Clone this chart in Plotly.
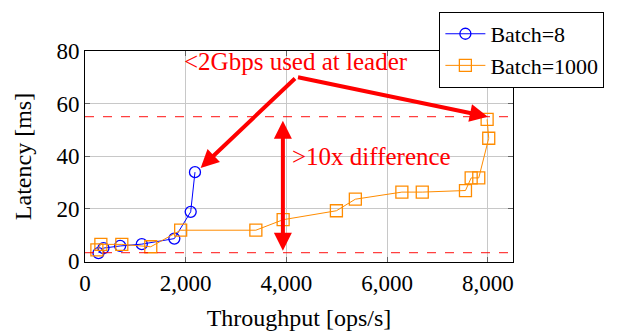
import plotly.graph_objects as go

# Batch=8 (blue circles)
b8_x = [268, 367, 698, 1128, 1774, 2099, 2184]
b8_y = [3.1, 5.0, 5.8, 6.5, 8.6, 18.8, 33.9]

# Batch=1000 (orange squares)
b1000_x = [236, 315, 731, 1306, 1900, 3393, 3935, 4993, 5369, 6293, 6698, 7556, 7669, 7820, 8018, 7986]
b1000_y = [4.3, 6.4, 6.4, 5.5, 11.8, 11.8, 15.8, 19.2, 23.6, 26.3, 26.3, 26.9, 31.7, 31.7, 46.8, 54.0]

x_ticks = [0, 2000, 4000, 6000, 8000]
x_tick_labels = ["0", "2,000", "4,000", "6,000", "8,000"]
y_ticks = [0, 20, 40, 60, 80]

ref_low = 3.3
ref_high = 55

FONT = "Liberation Serif, Times New Roman, serif"
RED = "#ff0000"

fig = go.Figure()
fig.add_trace(go.Scatter(
    x=b8_x, y=b8_y, mode="lines+markers", name="Batch=8",
    line=dict(color="#0000ff", width=1),
    marker=dict(symbol="circle-open", size=11, color="#0000ff", line=dict(width=1.3)),
))
fig.add_trace(go.Scatter(
    x=b1000_x, y=b1000_y, mode="lines+markers", name="Batch=1000",
    line=dict(color="#ff8c00", width=1),
    marker=dict(symbol="square-open", size=12, color="#ff8c00", line=dict(width=1.3)),
))

for yv in (ref_low, ref_high):
    fig.add_shape(type="line", xref="paper", x0=0, x1=1, yref="y", y0=yv, y1=yv,
                  line=dict(color="rgba(255,0,0,0.75)", width=1.3, dash="dash"))

# arrows from annotation to the two endpoints
ann_pt = (4200, 70.1)
fig.add_annotation(x=2297, y=35.5, ax=ann_pt[0], ay=ann_pt[1], xref="x", yref="y",
                   axref="x", ayref="y", showarrow=True, arrowhead=2, arrowsize=0.9,
                   arrowwidth=4, arrowcolor=RED, text="")
fig.add_annotation(x=8000, y=55, ax=ann_pt[0], ay=ann_pt[1], xref="x", yref="y",
                   axref="x", ayref="y", showarrow=True, arrowhead=2, arrowsize=0.9,
                   arrowwidth=4, arrowcolor=RED, text="")
# double arrow
fig.add_annotation(x=3930, y=4.0, ax=3930, ay=54.0, xref="x", yref="y",
                   axref="x", ayref="y", showarrow=True, arrowhead=2, arrowsize=0.9,
                   arrowside="end+start", arrowwidth=4, arrowcolor=RED, text="")

fig.add_annotation(x=4186, y=76.0, xref="x", yref="y", showarrow=False,
                   text="&lt;2Gbps used at leader", font=dict(family=FONT, size=25, color=RED))
fig.add_annotation(x=4067, y=39.8, xref="x", yref="y", showarrow=False, xanchor="left",
                   text="&gt;10x difference", font=dict(family=FONT, size=25, color=RED))

axis_common = dict(
    showgrid=True, gridcolor="#c8c8c8", gridwidth=1, zeroline=False,
    showline=True, linecolor="black", linewidth=1, mirror="ticks",
    ticks="inside", ticklen=5, tickcolor="#666666", automargin=False,
    tickfont=dict(family=FONT, size=23, color="black"),
)
fig.update_xaxes(range=[0, 8500], tickvals=x_ticks, ticktext=x_tick_labels,
                 title=dict(text="Throughput [ops/s]", font=dict(family=FONT, size=24, color="black"), standoff=14),
                 **axis_common)
fig.update_yaxes(range=[-0.3, 80], tickvals=y_ticks,
                 title=dict(text="Latency [ms]", font=dict(family=FONT, size=24, color="black"), standoff=18),
                 **axis_common)

fig.update_layout(
    width=629, height=332,
    margin=dict(l=85, r=116, t=41, b=70),
    paper_bgcolor="white", plot_bgcolor="white",
    font=dict(family=FONT, size=23, color="black"),
    showlegend=True,
    legend=dict(x=0.828, y=1.185, xanchor="left", yanchor="top",
                bgcolor="white", bordercolor="black", borderwidth=1,
                font=dict(family=FONT, size=22, color="black"),
                tracegroupgap=0, itemwidth=40),
)

fig.write_html("out.html")
